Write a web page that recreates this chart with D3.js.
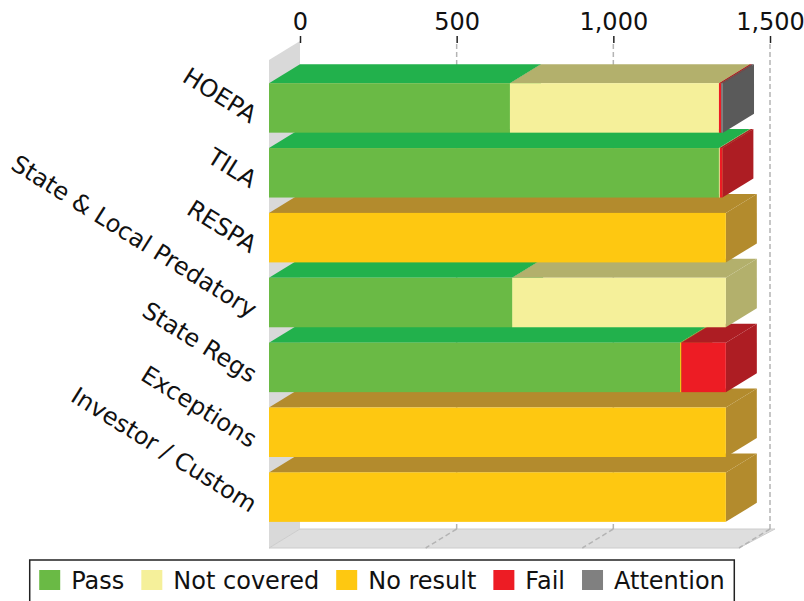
<!DOCTYPE html>
<html>
<head>
<meta charset="utf-8">
<script src="https://cdn.jsdelivr.net/npm/d3@7"></script>
<style>
  body { margin: 0; background: #fff; }
  text { font-family: "DejaVu Sans", sans-serif; fill: #111; }
</style>
</head>
<body>
<div id="chart"></div>
<script>
// values
var categories = ['HOEPA', 'TILA', 'RESPA', 'State & Local Predatory', 'State Regs', 'Exceptions', 'Investor / Custom'];
var seriesNames = ['Pass', 'Not covered', 'No result', 'Fail', 'Attention'];
var passValues = [769, 1436, 0, 776, 1312, 0, 0];
var notCoveredValues = [667, 3, 0, 682, 0, 0, 0];
var noResultValues = [0, 0, 1458, 0, 4, 1458, 1458];
var failValues = [7, 8, 0, 0, 142, 0, 0];
var attentionValues = [6, 0, 0, 0, 0, 0, 0];
var tickValues = [0, 500, 1000, 1500];

var frontColors = ['#6aba45', '#f5f09a', '#fec811', '#ed1c24', '#808080'];
var shadeColors = ['#22b14c', '#b3b06c', '#b38b2d', '#ad1d23', '#5a5a5a'];

var width = 804;
var height = 601;
var depthX = 31;
var depthY = -19;
var fontSize = '24px';

var svg = d3.select('#chart').append('svg')
  .attr('width', width)
  .attr('height', height);

var rows = categories.map(function (c, i) {
  return {
    category: c,
    'Pass': passValues[i],
    'Not covered': notCoveredValues[i],
    'No result': noResultValues[i],
    'Fail': failValues[i],
    'Attention': attentionValues[i]
  };
});
var stacked = d3.stack().keys(seriesNames)(rows);

var x = d3.scaleLinear().domain([0, 1500]).range([269, 739]);
var y = d3.scaleBand().domain(categories).range([60, 548])
  .paddingInner(0.237).paddingOuter(0.38).align(0.47);

var top0 = y.range()[0];
var bottom0 = y.range()[1];

_drawWalls();
_drawBars();
_drawAxis();
_drawLabels();
_drawLegend();

function _pts (list) {
  return list.map(function (p) { return p[0] + ',' + p[1]; }).join(' ');
}

function _drawWalls () {
  // left wall
  svg.append('polygon')
    .attr('points', _pts([[x(0), top0], [x(0) + depthX, top0 + depthY],
      [x(0) + depthX, bottom0 + depthY], [x(0), bottom0]]))
    .style('fill', '#d9d9d9');

  // floor
  svg.append('polygon')
    .attr('points', _pts([[x(0), bottom0], [x(1500), bottom0],
      [x(1500) + depthX + 5, bottom0 + depthY], [x(0) + depthX, bottom0 + depthY]]))
    .style('fill', '#dedede')
    .style('stroke', '#cccccc')
    .style('stroke-width', 1);

  // back grid lines
  svg.selectAll('.grid')
    .data(tickValues.slice(1))
    .enter()
    .append('line')
    .attr('class', 'grid')
    .attr('x1', function (d) { return x(d) + depthX; })
    .attr('x2', function (d) { return x(d) + depthX; })
    .attr('y1', top0 + depthY + 3)
    .attr('y2', bottom0 + depthY)
    .style('stroke', '#b4b4b4')
    .style('stroke-width', 1.5)
    .style('stroke-dasharray', '5,3');

  // floor grid lines
  svg.selectAll('.floorGrid')
    .data(tickValues.slice(1))
    .enter()
    .append('line')
    .attr('class', 'floorGrid')
    .attr('x1', function (d) { return x(d) + depthX; })
    .attr('x2', function (d) { return x(d); })
    .attr('y1', bottom0 + depthY)
    .attr('y2', bottom0)
    .style('stroke', '#b4b4b4')
    .style('stroke-width', 1.5)
    .style('stroke-dasharray', '5,3');
}

function _drawBars () {
  var g = svg.append('g').attr('class', 'bars');
  // bottom bar first so the bars above cover the back edge of its top face
  for (var i = categories.length - 1; i >= 0; i--) {
    var y0 = y(categories[i]);
    var h = y.bandwidth();
    for (var j = 0; j < stacked.length; j++) {
      var seg = stacked[j][i];
      if (seg[1] - seg[0] <= 0) continue;
      var x0 = x(seg[0]);
      var x1 = x(seg[1]);

      g.append('polygon')
        .attr('points', _pts([[x0, y0], [x1, y0], [x1 + depthX, y0 + depthY], [x0 + depthX, y0 + depthY]]))
        .style('fill', shadeColors[j]);

      g.append('polygon')
        .attr('points', _pts([[x1, y0], [x1 + depthX, y0 + depthY], [x1 + depthX, y0 + h + depthY], [x1, y0 + h]]))
        .style('fill', shadeColors[j]);

      g.append('rect')
        .attr('x', x0)
        .attr('y', y0)
        .attr('width', x1 - x0)
        .attr('height', h)
        .style('fill', frontColors[j]);
    }
  }
}

function _drawAxis () {
  var axis = d3.axisTop(x)
    .tickValues(tickValues)
    .tickFormat(d3.format(','))
    .tickSize(7)
    .tickPadding(6);

  var g = svg.append('g')
    .attr('transform', 'translate(' + depthX + ',' + (top0 + depthY + 2) + ')')
    .call(axis);

  g.select('.domain').remove();
  g.selectAll('.tick line').style('stroke', '#222').style('stroke-width', 1.5);
  g.selectAll('.tick text')
    .style('font-size', fontSize)
    .style('font-family', '"DejaVu Sans", sans-serif')
    .style('fill', '#111');
}

function _drawLabels () {
  svg.selectAll('.catLabel')
    .data(categories)
    .enter()
    .append('text')
    .attr('class', 'catLabel')
    .attr('text-anchor', 'end')
    .style('font-size', fontSize)
    .attr('transform', function (d) {
      var cy = y(d) + y.bandwidth() / 2 + 16;
      return 'translate(250,' + cy + ') rotate(32)';
    })
    .text(function (d) { return d; });
}

function _drawLegend () {
  var lg = svg.append('g').attr('class', 'legend');
  var box = lg.append('rect')
    .style('fill', '#fff')
    .style('stroke', '#222')
    .style('stroke-width', 1.5);

  var gap = 17;
  var cursor = 0;
  var items = lg.append('g');
  seriesNames.forEach(function (name, j) {
    items.append('rect')
      .attr('x', cursor)
      .attr('y', 570)
      .attr('width', 21)
      .attr('height', 20)
      .style('fill', frontColors[j]);
    var t = items.append('text')
      .attr('x', cursor + 32)
      .attr('y', 589)
      .style('font-size', fontSize)
      .text(name);
    cursor += 32 + t.node().getComputedTextLength() + gap;
  });
  var contentW = cursor - gap;
  var left = 382 - contentW / 2;
  items.attr('transform', 'translate(' + left + ',0)');
  box.attr('x', left - 9.5)
    .attr('y', 560)
    .attr('width', contentW + 19)
    .attr('height', 60);
}
</script>
</body>
</html>
